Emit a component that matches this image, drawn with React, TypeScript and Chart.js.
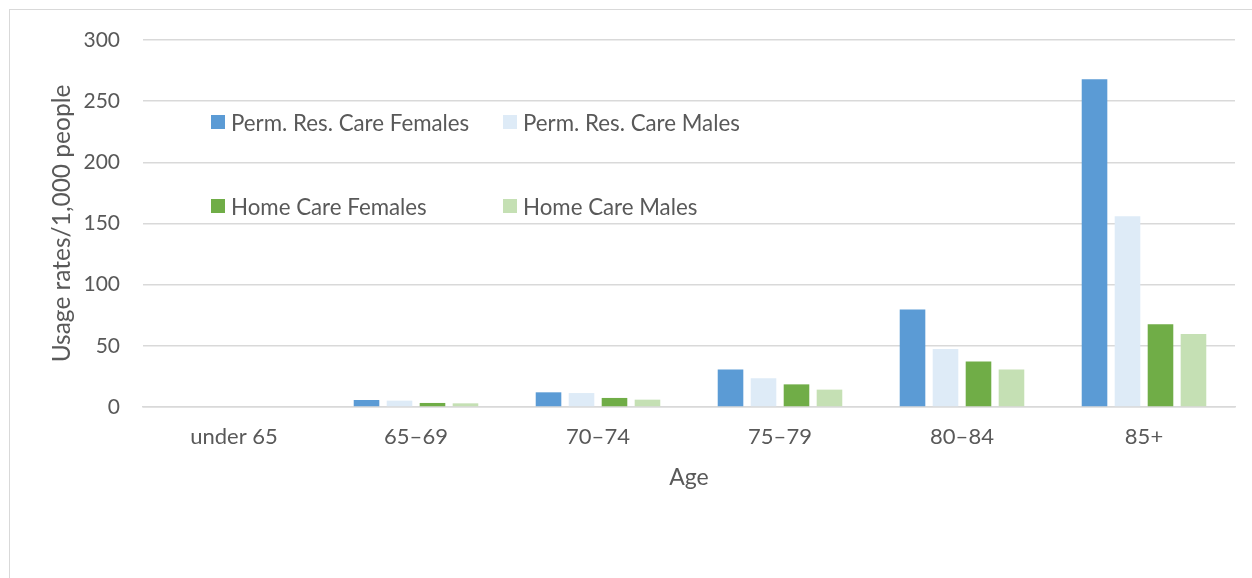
import React, { useEffect, useRef } from "react";
import { Chart, registerables } from "chart.js";

Chart.register(...registerables);

const categories = ["under 65", "65–69", "70–74", "75–79", "80–84", "85+"];
const permResFemales = [0, 5.7, 12, 30.6, 79.7, 268];
const permResMales = [0, 5.2, 11.4, 23.5, 47.5, 156];
const homeCareFemales = [0, 3.3, 7.4, 18.5, 37.1, 67.6];
const homeCareMales = [0, 3.0, 6.0, 14.2, 30.6, 59.7];
const seriesNames = [
  "Perm. Res. Care Females",
  "Perm. Res. Care Males",
  "Home Care Females",
  "Home Care Males",
];
const seriesColors = ["#5B9BD5", "#DEEBF7", "#70AD47", "#C5E0B4"];
const yTitle = "Usage rates/1,000 people";
const xTitle = "Age";

const FONT = "Lato, 'Open Sans', sans-serif";
const TEXT = "#595959";
const GRID = "#d9d9d9";

export default function App() {
  const ref = useRef<HTMLCanvasElement | null>(null);

  useEffect(() => {
    if (!ref.current) return;
    const values = [permResFemales, permResMales, homeCareFemales, homeCareMales];
    const chart = new Chart(ref.current, {
      type: "bar",
      data: {
        labels: categories,
        datasets: values.map((v, i) => ({
          label: seriesNames[i],
          data: v,
          backgroundColor: seriesColors[i],
          borderWidth: 0,
          categoryPercentage: 0.725,
          barPercentage: 0.776,
        })),
      },
      options: {
        responsive: false,
        animation: false,
        devicePixelRatio: 1,
        layout: { padding: { left: 47, right: 17, top: 40, bottom: 0 } },
        plugins: {
          legend: { display: false },
          tooltip: { enabled: false },
        },
        scales: {
          x: {
            afterFit: (s: any) => {
              s.height = 578 - 407;
            },
            grid: { display: false, drawTicks: false },
            border: { display: true, color: GRID, width: 1.5 },
            ticks: {
              color: TEXT,
              font: { family: FONT, size: 22 },
              padding: 17,
              maxRotation: 0,
            },
            title: {
              display: true,
              text: xTitle,
              color: TEXT,
              font: { family: FONT, size: 23 },
              padding: { top: 0, bottom: 87 },
            },
          },
          y: {
            min: 0,
            max: 300,
            afterFit: (s: any) => {
              s.width = 143 - 47;
            },
            grid: { color: GRID, lineWidth: 1.5, drawTicks: false },
            border: { display: false },
            ticks: {
              stepSize: 50,
              color: TEXT,
              font: { family: FONT, size: 21 },
              padding: 23,
            },
            title: {
              display: true,
              text: yTitle,
              color: TEXT,
              font: { family: FONT, size: 24.5 },
              padding: { top: 0, bottom: 0 },
            },
          },
        },
      },
    });
    return () => chart.destroy();
  }, []);

  const legendPos = [
    { x: 211, y: 122 },
    { x: 503, y: 122 },
    { x: 211, y: 206 },
    { x: 503, y: 206 },
  ];

  return (
    <div
      style={{
        position: "fixed",
        left: 0,
        top: 0,
        width: 1252,
        height: 578,
        overflow: "hidden",
        background: "#fff",
      }}
    >
      <div
        style={{
          position: "absolute",
          left: 9,
          top: 9,
          width: 1300,
          height: 700,
          border: "1.5px solid " + GRID,
        }}
      />
      <canvas ref={ref} width={1252} height={578} style={{ position: "absolute", left: 0, top: 0 }} />
      {seriesNames.map((name, i) => (
        <div
          key={name}
          style={{
            position: "absolute",
            left: legendPos[i].x,
            top: legendPos[i].y - 13,
            height: 26,
            display: "flex",
            alignItems: "center",
            fontFamily: FONT,
            fontSize: 22.3,
            color: TEXT,
            whiteSpace: "nowrap",
          }}
        >
          <span
            style={{
              display: "inline-block",
              width: 14,
              height: 14,
              background: seriesColors[i],
              marginRight: 6,
            }}
          />
          {name}
        </div>
      ))}
    </div>
  );
}
